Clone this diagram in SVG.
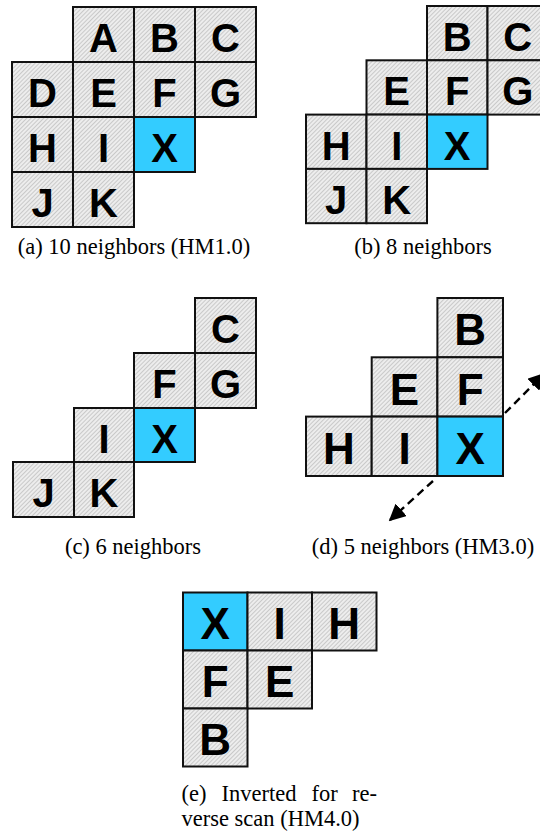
<svg xmlns="http://www.w3.org/2000/svg" width="540" height="833" viewBox="0 0 540 833">
<defs>
<pattern id="hatch" width="3" height="3" patternUnits="userSpaceOnUse" patternTransform="rotate(45)">
<rect width="3" height="3" fill="#ededed"/>
<line x1="0" y1="0" x2="0" y2="3" stroke="#ababab" stroke-width="1.1"/>
</pattern>
<marker id="ah" viewBox="0 0 10 10" refX="9" refY="5" markerWidth="7" markerHeight="7" orient="auto" markerUnits="strokeWidth">
<path d="M0,0 L10,5 L0,10 z" fill="#000"/>
</marker>
</defs>
<style>
.c{fill:url(#hatch);stroke:#111;stroke-width:2}
.x{fill:#33CCFF;stroke:#111;stroke-width:2}
.t{font-family:"Liberation Sans",Arial,sans-serif;font-weight:bold;font-size:40px;text-anchor:middle;fill:#000}
.tb{font-size:44px}
.cap{font-family:"Liberation Serif","Times New Roman",serif;font-size:22.5px;fill:#000}
.m{text-anchor:middle}
.arr{stroke:#000;stroke-width:2.4;stroke-dasharray:8,5;fill:none}
</style>

<!-- Panel (a) -->
<g id="a">
<g id="a-A"><rect class="c" x="73" y="7" width="61" height="55"/><text class="t" x="103.5" y="52">A</text></g>
<g id="a-B"><rect class="c" x="134" y="7" width="61" height="55"/><text class="t" x="164.5" y="52">B</text></g>
<g id="a-C"><rect class="c" x="195" y="7" width="61" height="55"/><text class="t" x="225.5" y="52">C</text></g>
<g id="a-D"><rect class="c" x="12" y="62" width="61" height="55"/><text class="t" x="42.5" y="107">D</text></g>
<g id="a-E"><rect class="c" x="73" y="62" width="61" height="55"/><text class="t" x="103.5" y="107">E</text></g>
<g id="a-F"><rect class="c" x="134" y="62" width="61" height="55"/><text class="t" x="164.5" y="107">F</text></g>
<g id="a-G"><rect class="c" x="195" y="62" width="61" height="55"/><text class="t" x="225.5" y="107">G</text></g>
<g id="a-H"><rect class="c" x="12" y="117" width="61" height="55"/><text class="t" x="42.5" y="162">H</text></g>
<g id="a-I"><rect class="c" x="73" y="117" width="61" height="55"/><text class="t" x="103.5" y="162">I</text></g>
<g id="a-X"><rect class="x" x="134" y="117" width="61" height="55"/><text class="t" x="164.5" y="162">X</text></g>
<g id="a-J"><rect class="c" x="12" y="172" width="61" height="55"/><text class="t" x="42.5" y="217">J</text></g>
<g id="a-K"><rect class="c" x="73" y="172" width="61" height="55"/><text class="t" x="103.5" y="217">K</text></g>
<text class="cap m" x="134" y="254">(a) 10 neighbors (HM1.0)</text>
</g>

<!-- Panel (b) -->
<g id="b">
<g id="b-B"><rect class="c" x="427" y="6" width="60.5" height="54.3"/><text class="t" x="457.2" y="51">B</text></g>
<g id="b-C"><rect class="c" x="487.5" y="6" width="60.5" height="54.3"/><text class="t" x="517.7" y="51">C</text></g>
<g id="b-E"><rect class="c" x="366.5" y="60.3" width="60.5" height="54.3"/><text class="t" x="396.7" y="105">E</text></g>
<g id="b-F"><rect class="c" x="427" y="60.3" width="60.5" height="54.3"/><text class="t" x="457.2" y="105">F</text></g>
<g id="b-G"><rect class="c" x="487.5" y="60.3" width="60.5" height="54.3"/><text class="t" x="517.7" y="105">G</text></g>
<g id="b-H"><rect class="c" x="306" y="114.6" width="60.5" height="54.3"/><text class="t" x="336.2" y="159.5">H</text></g>
<g id="b-I"><rect class="c" x="366.5" y="114.6" width="60.5" height="54.3"/><text class="t" x="396.7" y="159.5">I</text></g>
<g id="b-X"><rect class="x" x="427" y="114.6" width="60.5" height="54.3"/><text class="t" x="457.2" y="159.5">X</text></g>
<g id="b-J"><rect class="c" x="306" y="168.9" width="60.5" height="54.3"/><text class="t" x="336.2" y="213.5">J</text></g>
<g id="b-K"><rect class="c" x="366.5" y="168.9" width="60.5" height="54.3"/><text class="t" x="396.7" y="213.5">K</text></g>
<text class="cap m" x="423" y="254">(b) 8 neighbors</text>
</g>

<!-- Panel (c) -->
<g id="c">
<g id="c-C"><rect class="c" x="195" y="298" width="61" height="55"/><text class="t" x="225.5" y="343">C</text></g>
<g id="c-F"><rect class="c" x="134" y="353" width="61" height="55"/><text class="t" x="164.5" y="398">F</text></g>
<g id="c-G"><rect class="c" x="195" y="353" width="61" height="55"/><text class="t" x="225.5" y="398">G</text></g>
<g id="c-I"><rect class="c" x="74" y="408" width="60" height="54"/><text class="t" x="104" y="452.5">I</text></g>
<g id="c-X"><rect class="x" x="134" y="408" width="61" height="54"/><text class="t" x="164.5" y="452.5">X</text></g>
<g id="c-J"><rect class="c" x="13" y="462" width="61" height="55"/><text class="t" x="43.5" y="507">J</text></g>
<g id="c-K"><rect class="c" x="74" y="462" width="60" height="55"/><text class="t" x="104" y="507">K</text></g>
<text class="cap m" x="133" y="554">(c) 6 neighbors</text>
</g>

<!-- Panel (d) -->
<g id="d">
<g id="d-B"><rect class="c" x="437.4" y="298" width="65.6" height="59.3"/><text class="t tb" x="470.2" y="345">B</text></g>
<g id="d-E"><rect class="c" x="371.7" y="357.3" width="65.7" height="59.3"/><text class="t tb" x="404.5" y="404.5">E</text></g>
<g id="d-F"><rect class="c" x="437.4" y="357.3" width="65.6" height="59.3"/><text class="t tb" x="470.2" y="404.5">F</text></g>
<g id="d-H"><rect class="c" x="306" y="416.6" width="65.7" height="59.4"/><text class="t tb" x="338.8" y="464">H</text></g>
<g id="d-I"><rect class="c" x="371.7" y="416.6" width="65.7" height="59.4"/><text class="t tb" x="404.5" y="464">I</text></g>
<g id="d-X"><rect class="x" x="437.4" y="416.6" width="65.6" height="59.4"/><text class="t tb" x="470.2" y="464">X</text></g>
<text class="cap m" x="423" y="554">(d) 5 neighbors (HM3.0)</text>
</g>

<!-- Panel (e) -->
<g id="e">
<g id="e-X"><rect class="x" x="183" y="592.5" width="64.5" height="58"/><text class="t tb" x="215.2" y="638.5">X</text></g>
<g id="e-I"><rect class="c" x="247.5" y="592.5" width="64.5" height="58"/><text class="t tb" x="279.7" y="638.5">I</text></g>
<g id="e-H"><rect class="c" x="312" y="592.5" width="64.5" height="58"/><text class="t tb" x="344.2" y="638.5">H</text></g>
<g id="e-F"><rect class="c" x="183" y="650.5" width="64.5" height="58"/><text class="t tb" x="215.2" y="696.5">F</text></g>
<g id="e-E"><rect class="c" x="247.5" y="650.5" width="64.5" height="58"/><text class="t tb" x="279.7" y="696.5">E</text></g>
<g id="e-B"><rect class="c" x="183" y="708.5" width="64.5" height="58"/><text class="t tb" x="215.2" y="754.5">B</text></g>
<text class="cap" y="801"><tspan x="181.5">(e)</tspan><tspan x="221.5">Inverted</tspan><tspan x="311.5">for</tspan><tspan x="377" text-anchor="end">re-</tspan></text>
<text class="cap" x="181.5" y="826">verse scan (HM4.0)</text>
</g>

<!-- Connectors -->
<g id="connectors">
<line class="arr" x1="505" y1="413" x2="544" y2="374" marker-end="url(#ah)"/>
<line class="arr" x1="433" y1="481" x2="390" y2="520" marker-end="url(#ah)"/>
</g>
</svg>
